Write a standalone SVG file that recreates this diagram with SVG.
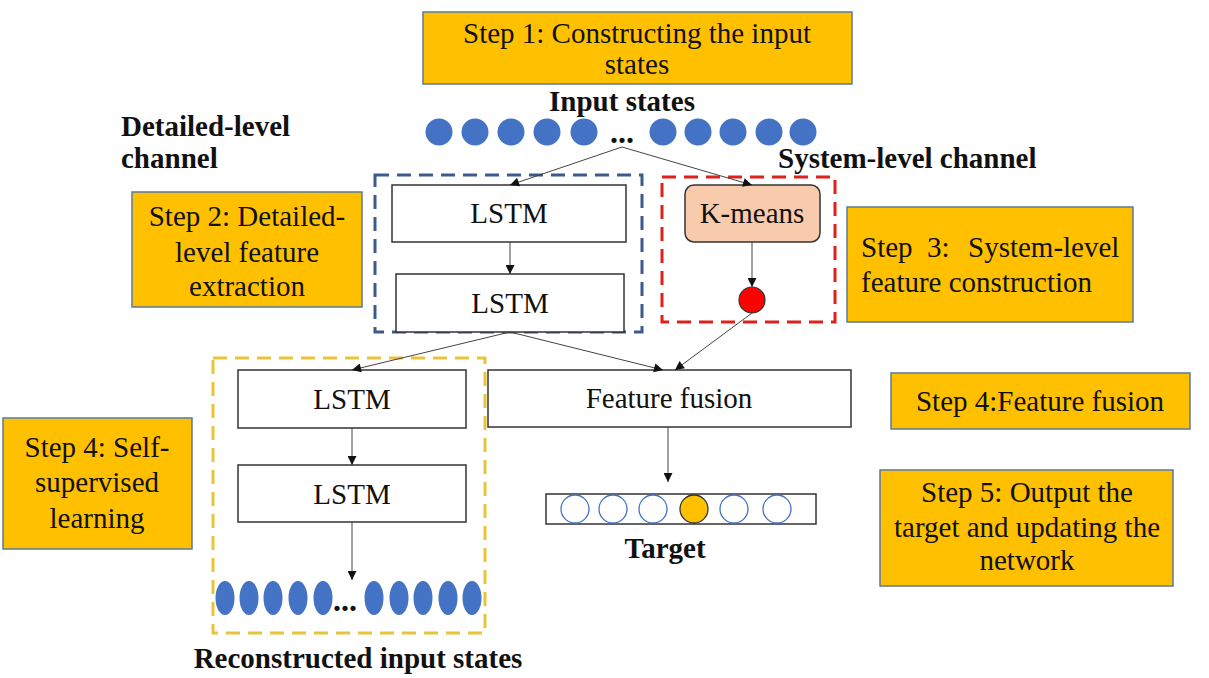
<svg xmlns="http://www.w3.org/2000/svg" width="1209" height="678" viewBox="0 0 1209 678">
<style>
.step{fill:#FFC000;stroke:#5B7A9C;stroke-width:1.5}
.t{font-family:'Liberation Serif','Times New Roman',serif;font-size:29px;fill:#111}
.b{font-family:'Liberation Serif','Times New Roman',serif;font-size:29px;font-weight:bold;fill:#111}
.c{text-anchor:middle}
.box{fill:#fff;stroke:#333;stroke-width:1.5}
.conn{stroke:#444;stroke-width:1;fill:none;marker-end:url(#ah)}
.in{fill:#4472C4}
.oc{fill:none;stroke:#4472C4;stroke-width:1.3}
</style>
<defs>
<marker id="ah" viewBox="0 0 10 10" refX="10" refY="5" markerWidth="10" markerHeight="9" markerUnits="userSpaceOnUse" orient="auto">
<path d="M0,0 L10,5 L0,10 z" fill="#111"/>
</marker>
</defs>
<rect width="1209" height="678" fill="#fff"/>

<g id="step1"><rect class="step" x="423" y="12" width="429" height="72"/>
<text class="t c" x="637" y="43">Step 1: Constructing the input</text>
<text class="t c" x="637" y="74">states</text></g>

<g id="input-states">
<text class="b c" x="622" y="111">Input states</text>
<circle class="in" cx="439" cy="132" r="13.5"/><circle class="in" cx="475" cy="132" r="13.5"/><circle class="in" cx="511" cy="132" r="13.5"/><circle class="in" cx="547" cy="132" r="13.5"/><circle class="in" cx="584" cy="132" r="13.5"/>
<text class="b" x="610" y="143" style="font-size:32px">...</text>
<circle class="in" cx="663" cy="132" r="13.5"/><circle class="in" cx="698" cy="132" r="13.5"/><circle class="in" cx="733" cy="132" r="13.5"/><circle class="in" cx="769" cy="132" r="13.5"/><circle class="in" cx="803" cy="132" r="13.5"/>
</g>

<g id="detailed-label"><text class="b" x="121" y="136">Detailed-level</text><text class="b" x="121" y="168">channel</text></g>
<g id="system-label"><text class="b" x="778" y="168">System-level channel</text></g>

<g id="step2"><rect class="step" x="132" y="192" width="230" height="115"/>
<text class="t c" x="247" y="226">Step 2: Detailed-</text>
<text class="t c" x="247" y="262">level feature</text>
<text class="t c" x="247" y="296">extraction</text></g>

<g id="step3"><rect class="step" x="847" y="207" width="286" height="115"/>
<text class="t" y="257"><tspan x="861">Step</tspan><tspan x="927">3:</tspan><tspan x="968">System-level</tspan></text>
<text class="t" x="861" y="292">feature construction</text></g>

<g id="step4-fusion"><rect class="step" x="891" y="373" width="299" height="56"/>
<text class="t c" x="1040" y="411">Step 4:Feature fusion</text></g>

<g id="step5"><rect class="step" x="880" y="470" width="293" height="116"/>
<text class="t c" x="1027" y="502">Step 5: Output the</text>
<text class="t c" x="1027" y="537">target and updating the</text>
<text class="t c" x="1027" y="570">network</text></g>

<g id="step4-self"><rect class="step" x="3" y="418" width="189" height="131"/>
<text class="t c" x="97" y="457">Step 4: Self-</text>
<text class="t c" x="97" y="492">supervised</text>
<text class="t c" x="97" y="528">learning</text></g>

<g id="detailed-channel">
<rect x="375" y="175" width="267" height="157" fill="none" stroke="#3C5A8E" stroke-width="3" stroke-dasharray="14,8"/>
</g>
<g id="system-channel">
<rect x="662" y="177" width="173" height="145" fill="none" stroke="#E0201B" stroke-width="3" stroke-dasharray="14,8"/>
</g>
<g id="self-supervised">
<rect x="213" y="358" width="272" height="275" fill="none" stroke="#EAC338" stroke-width="3" stroke-dasharray="14,8"/>
</g>

<g id="lstm1"><rect class="box" x="392" y="185" width="234" height="57"/><text class="t c" x="509" y="223">LSTM</text></g>
<g id="lstm2"><rect class="box" x="396" y="274" width="228" height="58"/><text class="t c" x="510" y="313">LSTM</text></g>
<g id="kmeans"><rect x="685" y="185" width="135" height="57" rx="9" fill="#F8CBAD" stroke="#333" stroke-width="1.5"/><text class="t c" x="752" y="223">K-means</text></g>
<g id="red-node"><circle cx="752" cy="300" r="13" fill="#FF0000" stroke="#333" stroke-width="1.2"/></g>
<g id="lstm3"><rect class="box" x="238" y="370" width="228" height="58"/><text class="t c" x="352" y="409">LSTM</text></g>
<g id="lstm4"><rect class="box" x="238" y="465" width="228" height="57"/><text class="t c" x="352" y="504">LSTM</text></g>
<g id="fusion"><rect class="box" x="488" y="370" width="363" height="57"/><text class="t c" x="669" y="408">Feature fusion</text></g>

<g id="reconstructed">
<ellipse class="in" cx="225" cy="598" rx="9.5" ry="17"/><ellipse class="in" cx="249" cy="598" rx="9.5" ry="17"/><ellipse class="in" cx="273" cy="598" rx="9.5" ry="17"/><ellipse class="in" cx="298" cy="598" rx="9.5" ry="17"/><ellipse class="in" cx="323" cy="598" rx="9.5" ry="17"/>
<text class="b" x="333" y="611" style="font-size:32px">...</text>
<ellipse class="in" cx="374" cy="598" rx="9.5" ry="17"/><ellipse class="in" cx="399" cy="598" rx="9.5" ry="17"/><ellipse class="in" cx="423" cy="598" rx="9.5" ry="17"/><ellipse class="in" cx="448" cy="598" rx="9.5" ry="17"/><ellipse class="in" cx="472" cy="598" rx="9.5" ry="17"/>
<text class="b c" x="358" y="668">Reconstructed input states</text>
</g>

<g id="target">
<rect class="box" x="546" y="494" width="270" height="30"/>
<circle class="oc" cx="575" cy="509" r="14"/><circle class="oc" cx="613" cy="509" r="14"/><circle class="oc" cx="653" cy="509" r="14"/>
<circle cx="694" cy="509" r="14" fill="#FFC000" stroke="#333" stroke-width="1.3"/>
<circle class="oc" cx="734" cy="509" r="14"/><circle class="oc" cx="777" cy="509" r="14"/>
<text class="b c" x="665" y="558">Target</text>
</g>

<g id="connectors">
<path class="conn" d="M622,147 L510,185"/>
<path class="conn" d="M622,147 L752,185"/>
<path class="conn" d="M510,242 L510,274"/>
<path class="conn" d="M752,242 L752,287"/>
<path class="conn" d="M510,332 L352,370"/>
<path class="conn" d="M510,332 L663,370"/>
<path class="conn" d="M752,313 L675,370"/>
<path class="conn" d="M352,428 L352,465"/>
<path class="conn" d="M352,522 L352,580"/>
<path class="conn" d="M668,427 L668,482"/>
</g>
</svg>
